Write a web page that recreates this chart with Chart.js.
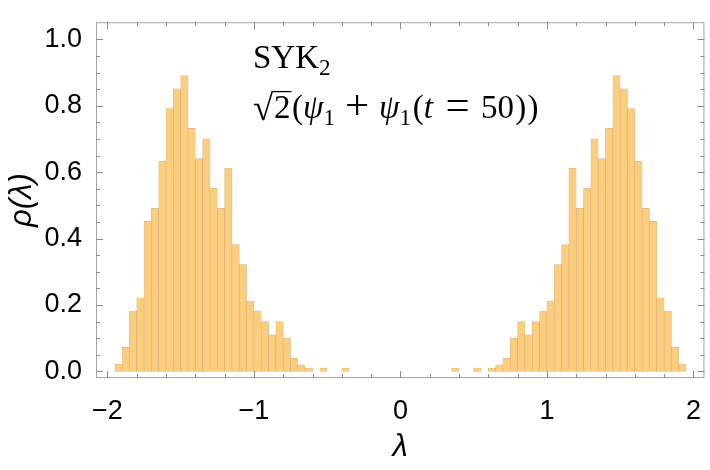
<!DOCTYPE html>
<html>
<head>
<meta charset="utf-8">
<script src="https://cdn.jsdelivr.net/npm/chart.js@4.4.0/dist/chart.umd.min.js"></script>
<style>
  html, body { margin: 0; padding: 0; background: #fff; }
  #wrap { width: 710px; height: 470px; position: relative; }
</style>
</head>
<body>
<div id="wrap"><canvas id="histChart"></canvas></div>
<script>
// 直方图的区间中心 (宽度 0.05)
const binCenters = [
  -1.925, -1.875, -1.825, -1.775, -1.725, -1.675, -1.625, -1.575, -1.525, -1.475,
  -1.425, -1.375, -1.325, -1.275, -1.225, -1.175, -1.125, -1.075, -1.025, -0.975,
  -0.925, -0.875, -0.825, -0.775, -0.725, -0.675, -0.625, -0.575, -0.525, -0.475,
  -0.425, -0.375, -0.325, -0.275, -0.225, -0.175, -0.125, -0.075, -0.025,
  0.025, 0.075, 0.125, 0.175, 0.225, 0.275, 0.325, 0.375, 0.425, 0.475,
  0.525, 0.575, 0.625, 0.675, 0.725, 0.775, 0.825, 0.875, 0.925, 0.975,
  1.025, 1.075, 1.125, 1.175, 1.225, 1.275, 1.325, 1.375, 1.425, 1.475,
  1.525, 1.575, 1.625, 1.675, 1.725, 1.775, 1.825, 1.875, 1.925
];

// 密度 rho(lambda)
const density = [
  0.022, 0.073, 0.182, 0.222, 0.452, 0.491, 0.633, 0.792, 0.851, 0.891,
  0.732, 0.641, 0.701, 0.552, 0.491, 0.612, 0.382, 0.322, 0.212, 0.182,
  0.150, 0.110, 0.150, 0.100, 0.040, 0.020, 0.010, 0, 0.010, 0,
  0, 0.010, 0, 0, 0, 0, 0, 0, 0,
  0, 0, 0, 0, 0, 0, 0, 0.010, 0, 0,
  0.010, 0, 0.010, 0.020, 0.040, 0.100, 0.150, 0.110, 0.150, 0.182,
  0.212, 0.322, 0.382, 0.612, 0.491, 0.552, 0.701, 0.641, 0.732, 0.891,
  0.851, 0.792, 0.633, 0.491, 0.452, 0.222, 0.182, 0.073, 0.022
];

const xMajorTicks = [-2, -1, 0, 1, 2];
const yMajorTicks = [0, 0.2, 0.4, 0.6, 0.8, 1.0];

const frameColor = '#a6a6a6';
const tickColor = '#8a8a8a';

// 画框和向内的刻度 (Mathematica 风格)
const framePlugin = {
  id: 'frame',
  afterDatasetsDraw(chart) {
    const { ctx, chartArea: a, scales: { x, y } } = chart;
    ctx.save();
    ctx.lineWidth = 1;
    ctx.strokeStyle = frameColor;
    ctx.strokeRect(a.left + 0.5, a.top + 0.5, a.right - a.left - 1, a.bottom - a.top - 1);

    ctx.strokeStyle = tickColor;
    ctx.beginPath();
    // x 刻度
    for (let v = -2; v <= 2.001; v += 0.2) {
      const px = Math.round(x.getPixelForValue(v)) + 0.5;
      const major = xMajorTicks.some(t => Math.abs(t - v) < 1e-6);
      const len = major ? 7 : 4;
      ctx.moveTo(px, a.bottom); ctx.lineTo(px, a.bottom - len);
      ctx.moveTo(px, a.top); ctx.lineTo(px, a.top + len);
    }
    // y 刻度
    for (let v = 0; v <= 1.001; v += 0.05) {
      const py = Math.round(y.getPixelForValue(v)) + 0.5;
      const major = yMajorTicks.some(t => Math.abs(t - v) < 1e-6);
      const len = major ? 7 : 4;
      ctx.moveTo(a.left, py); ctx.lineTo(a.left + len, py);
      ctx.moveTo(a.right, py); ctx.lineTo(a.right - len, py);
    }
    ctx.stroke();
    ctx.restore();
  }
};

// 图中的标注文字
function drawRuns(ctx, runs, x0, base, size) {
  let xx = x0;
  runs.forEach(r => {
    const s = r.sub ? size * 0.7 : size * (r.scale || 1);
    ctx.font = (r.italic ? 'italic ' : '') + s + 'px "Liberation Serif"';
    const yy = r.sub ? base + size * 0.22 : base + (r.dy || 0) * size;
    xx += (r.pre || 0) * size;
    ctx.fillText(r.t, xx, yy);
    const w = ctx.measureText(r.t).width;
    if (r.over) {
      ctx.beginPath();
      ctx.lineWidth = 1.3;
      ctx.moveTo(xx - 2, base - size * 0.8);
      ctx.lineTo(xx + w + 1, base - size * 0.8);
      ctx.stroke();
    }
    xx += w + (r.gap || 0) * size;
  });
}

const labelPlugin = {
  id: 'labels',
  afterDraw(chart) {
    const ctx = chart.ctx;
    ctx.save();
    ctx.fillStyle = '#000';
    ctx.strokeStyle = '#000';
    ctx.textBaseline = 'alphabetic';
    drawRuns(ctx, [{ t: 'SYK' }, { t: '2', sub: true }], 253, 68, 33);
    drawRuns(ctx, [
      { t: '\u221A', scale: 1.12, dy: 0.06, gap: 0.02 }, { t: '2', over: true }, { t: '(', pre: 0.05 },
      { t: '\u03C8', italic: true }, { t: '1', sub: true },
      { t: '+', scale: 1.3, dy: 0.04, pre: 0.3, gap: 0.3 },
      { t: '\u03C8', italic: true }, { t: '1', sub: true },
      { t: '(', pre: 0.05 }, { t: 't', italic: true, gap: 0.04 },
      { t: '=', scale: 1.3, dy: 0.02, pre: 0.34, gap: 0.34 }, { t: '50' },
      { t: ')', pre: 0.04 }, { t: ')', pre: 0.04 }
    ], 253, 118, 33);
    ctx.restore();
  }
};

const ctx = document.getElementById('histChart');
new Chart(ctx, {
  type: 'bar',
  data: {
    datasets: [{
      data: binCenters.map((c, i) => ({ x: c, y: density[i] })),
      backgroundColor: 'rgb(252, 205, 124)',
      borderColor: 'rgba(180, 140, 80, 0.6)',
      borderWidth: 0.6,
      borderSkipped: false,
      barPercentage: 1,
      categoryPercentage: 1
    }]
  },
  options: {
    responsive: true,
    maintainAspectRatio: false,
    animation: false,
    layout: { padding: { top: 1, right: 4, left: 0, bottom: 0 } },
    plugins: {
      legend: { display: false },
      tooltip: { enabled: false }
    },
    scales: {
      x: {
        type: 'linear',
        offset: false,
        min: -2.078,
        max: 2.075,
        grid: { display: false, offset: false },
        border: { display: false },
        ticks: {
          stepSize: 1,
          includeBounds: false,
          autoSkip: false,
          maxRotation: 0,
          padding: 9,
          color: '#000',
          font: { family: '"Liberation Sans"', size: 27 },
          callback: v => (v < 0 ? '\u2212' + Math.abs(v) : String(v))
        },
        title: {
          display: true,
          text: '\u03BB',
          color: '#000',
          font: { family: '"Liberation Sans"', size: 31, style: 'italic' },
          padding: { top: 0, bottom: 4 }
        },
        afterFit: s => { s.height = 92; }
      },
      y: {
        min: -0.0199,
        max: 1.052,
        grid: { display: false },
        border: { display: false },
        ticks: {
          stepSize: 0.2,
          includeBounds: false,
          padding: 6,
          color: '#000',
          font: { family: '"Liberation Sans"', size: 27 },
          callback: v => v.toFixed(1)
        },
        title: {
          display: true,
          text: '\u03C1(\u03BB)',
          color: '#000',
          font: { family: '"Liberation Sans"', size: 31, style: 'italic' },
          padding: { top: 4, bottom: 0 }
        },
        afterFit: s => { s.width = 96; }
      }
    }
  },
  plugins: [framePlugin, labelPlugin]
});
</script>
</body>
</html>
